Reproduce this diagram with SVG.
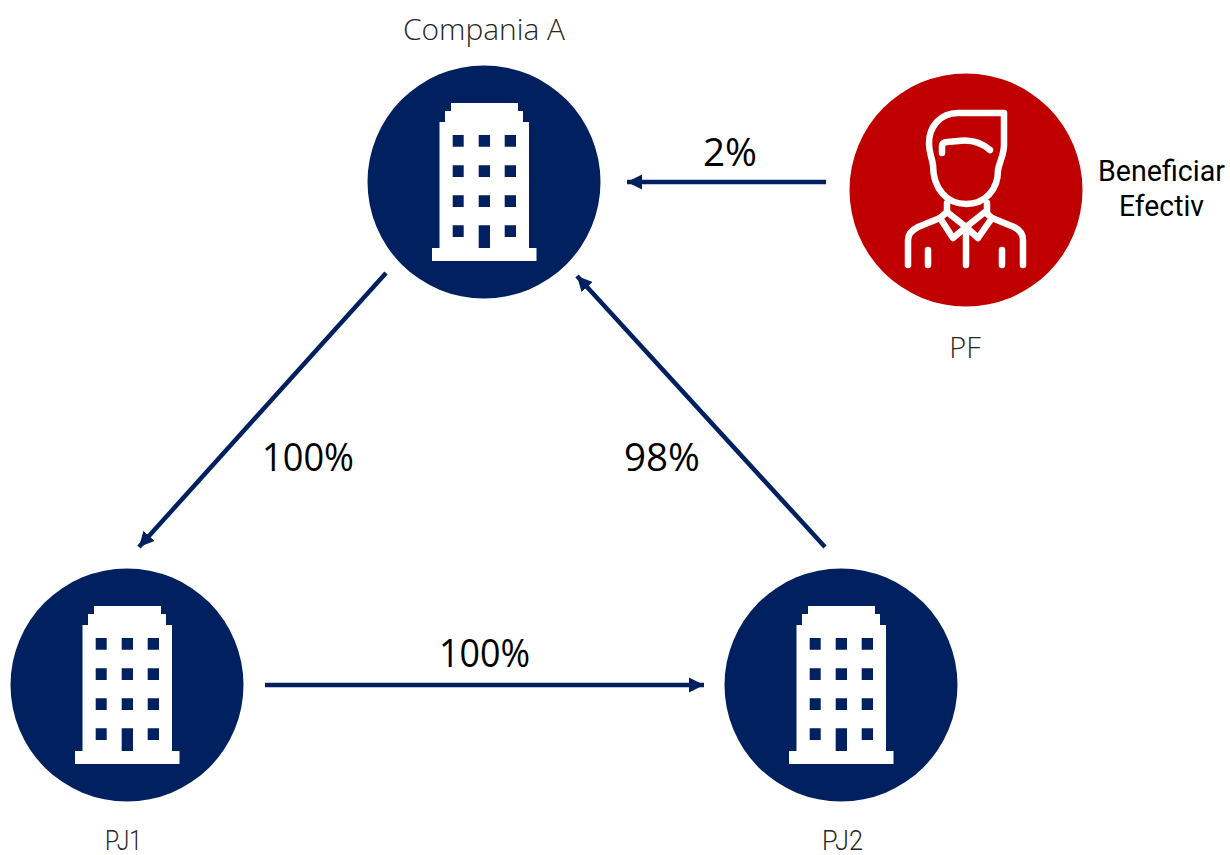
<svg xmlns="http://www.w3.org/2000/svg" width="1230" height="855" viewBox="0 0 1230 855">
<style>
text{font-family:"Open Sans","Noto Sans",sans-serif;fill:#000}
.lbl{font-size:29px;font-weight:300;fill:#262626}
.pj{font-family:Roboto,"Open Sans",sans-serif;font-size:28px;font-weight:300;fill:#262626}
.pct{font-size:38px;font-weight:400}
.ben{font-family:Roboto,"Open Sans",sans-serif;font-size:29px}
.conn{stroke:#002060;stroke-width:4.500;fill:none;marker-end:url(#ah)}
.navy{fill:#002060}
.wh{fill:#fff}
.person{fill:none;stroke:#fff;stroke-width:6.500;stroke-linecap:round;stroke-linejoin:round}
</style>
<defs>
<marker id="ah" markerUnits="userSpaceOnUse" markerWidth="18" markerHeight="18" refX="15" refY="8" orient="auto"><path d="M0 0.500L15 8L0 15.500Z" fill="#002060"/></marker>
<g id="bld">
<path class="wh" d="M451 103H518V111H523V122H529V248H536.500V261H432V248H439.500V122H445V111H451Z"/>
<path class="navy" d="M452.700 135h11v11.700h-11zM478.700 135h11.300v11.700h-11.300zM504.700 135h11.300v11.700h-11.300zM452.700 165.300h11v11.700h-11zM478.700 165.300h11.300v11.700h-11.300zM504.700 165.300h11.300v11.700h-11.300zM452.700 195.300h11v11.700h-11zM478.700 195.300h11.300v11.700h-11.300zM504.700 195.300h11.300v11.700h-11.300zM452.700 225.300h11v11.700h-11zM478.700 225.300h11.300v22.700h-11.300zM504.700 225.300h11.300v11.700h-11.300z"/>
</g>
</defs>
<rect width="1230" height="855" fill="#fff"/>
<g id="connectors">
<path class="conn" d="M826 182H627"/>
<path class="conn" d="M386 273L139 547"/>
<path class="conn" d="M825 547L577 276"/>
<path class="conn" d="M265 685H704"/>
</g>
<g id="node-a">
<circle class="navy" cx="484" cy="182" r="116.500"/>
<use href="#bld"/>
<text class="lbl" x="403" y="40" textLength="162" lengthAdjust="spacingAndGlyphs">Compania A</text>
</g>
<g id="node-pf">
<circle cx="966" cy="190" r="116.500" fill="#c00000"/>
<g class="person">
<path d="M1004 113H958C940 113 929 127 929 143C929 152 932 158 933 165C933 190 948 204 966 204C985 204 998 190 998 170C1000 160 1004 155 1004 145Z"/>
<path d="M942 153V146C942 141 950 142 958 141C972 139 982 143 990 150"/>
<path d="M947 203V212M987 203V212"/>
<path d="M947 212L966 227L953 238L940 218ZM985 212L966 227L978 238L992 218Z"/>
<path d="M940 218L918 227C912 230 908 234 908 240V265M992 218L1014 227C1020 230 1023 234 1023 240V265"/>
<path d="M966 228V265M928 250V265M1002 250V265"/>
</g>
<text class="lbl" x="965" y="358" text-anchor="middle">PF</text>
<text class="ben" x="1098" y="181" textLength="127" lengthAdjust="spacingAndGlyphs">Beneficiar</text>
<text class="ben" x="1119" y="216" textLength="85" lengthAdjust="spacingAndGlyphs">Efectiv</text>
</g>
<g id="node-pj1">
<circle class="navy" cx="127" cy="685" r="116.500"/>
<use href="#bld" x="-357" y="503"/>
<text class="pj" x="105" y="850" textLength="37" lengthAdjust="spacingAndGlyphs">PJ1</text>
</g>
<g id="node-pj2">
<circle class="navy" cx="841" cy="685" r="116.500"/>
<use href="#bld" x="357" y="503"/>
<text class="pj" x="822" y="850" textLength="41" lengthAdjust="spacingAndGlyphs">PJ2</text>
</g>
<g id="labels">
<text class="pct" x="703" y="166" textLength="54" lengthAdjust="spacingAndGlyphs">2%</text>
<text class="pct" x="262" y="471" textLength="92" lengthAdjust="spacingAndGlyphs">100%</text>
<text class="pct" x="624" y="471" textLength="76" lengthAdjust="spacingAndGlyphs">98%</text>
<text class="pct" x="439" y="667" textLength="91" lengthAdjust="spacingAndGlyphs">100%</text>
</g>
</svg>
